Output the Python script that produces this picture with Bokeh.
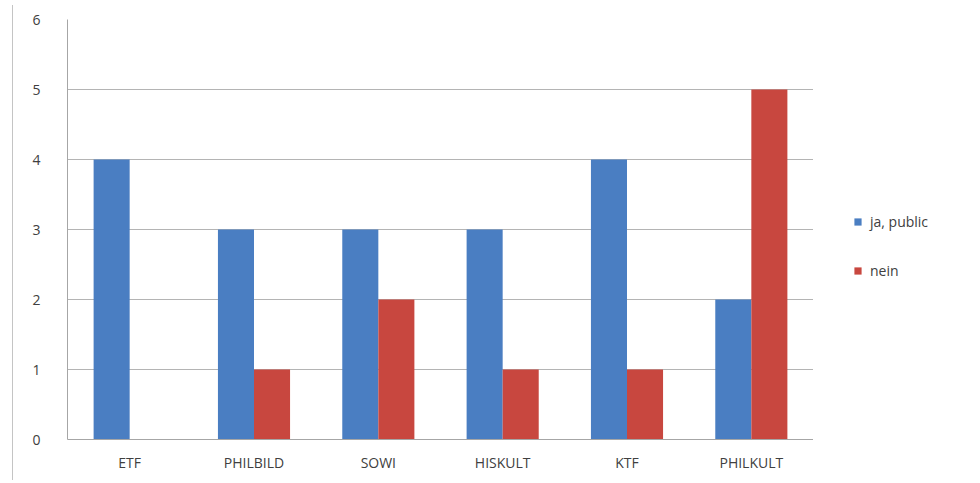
import numpy as np
from bokeh.plotting import figure
from bokeh.models import ColumnDataSource, Legend, LegendItem, FactorRange, Div, Spacer
from bokeh.layouts import row
from bokeh.transform import dodge
from bokeh.embed import file_html
from bokeh.resources import INLINE

categories = ["ETF", "PHILBILD", "SOWI", "HISKULT", "KTF", "PHILKULT"]
ja_public = [4, 3, 3, 3, 4, 2]
nein = [0, 1, 2, 1, 1, 5]
y_ticks = [0, 1, 2, 3, 4, 5, 6]
series_labels = ["ja, public", "nein"]
series_colors = ["#4a7ec2", "#c8473f"]

source = ColumnDataSource(data=dict(cat=categories, ja=ja_public, nein=nein))

FONT = "Open Sans"
TXT = "#404040"
H = 475

p = figure(x_range=FactorRange(*categories, range_padding=0), y_range=(0, 6),
           width=795, height=H, output_backend="svg", toolbar_location=None,
           min_border_left=49, min_border_top=19, min_border_bottom=36, min_border_right=0)
p.outline_line_color = None

r1 = p.vbar(x=dodge("cat", -0.145, range=p.x_range), top="ja", width=0.29, source=source,
            fill_color=series_colors[0], line_color=None)
r2 = p.vbar(x=dodge("cat", 0.145, range=p.x_range), top="nein", width=0.29, source=source,
            fill_color=series_colors[1], line_color=None)

p.yaxis.ticker = y_ticks
p.yaxis.axis_line_color = "#a6a6a6"
p.yaxis.major_tick_line_color = None
p.yaxis.minor_tick_line_color = None
p.yaxis.major_label_standoff = 21
p.yaxis.major_label_text_font = FONT
p.yaxis.major_label_text_font_size = "14px"
p.yaxis.major_label_text_color = TXT

p.xaxis.axis_line_color = "#a6a6a6"
p.xaxis.major_tick_line_color = None
p.xaxis.minor_tick_line_color = None
p.xaxis.major_label_standoff = 7
p.xaxis.major_label_text_font = FONT
p.xaxis.major_label_text_font_size = "14px"
p.xaxis.major_label_text_color = TXT

p.xgrid.grid_line_color = None
p.ygrid.grid_line_color = "#b4b4b4"
p.ygrid.grid_line_width = 1

# legend panel on the right (separate, axis-less figure); proxy renderers hold no visible data
p2 = figure(width=161, height=H, output_backend="svg", toolbar_location=None,
            x_range=(0, 1), y_range=(0, 1),
            min_border_left=0, min_border_right=0, min_border_top=0, min_border_bottom=0)
p2.axis.visible = False
p2.grid.visible = False
p2.outline_line_color = None
proxy = ColumnDataSource(data=dict(x=np.array([np.nan]), top=np.array([np.nan])))
l1 = p2.vbar(x="x", top="top", width=0.1, source=proxy, fill_color=series_colors[0], line_color=None)
l2 = p2.vbar(x="x", top="top", width=0.1, source=proxy, fill_color=series_colors[1], line_color=None)

legend = Legend(items=[LegendItem(label=series_labels[0], renderers=[l1]),
                       LegendItem(label=series_labels[1], renderers=[l2])],
                location=(40, 159))
legend.border_line_color = None
legend.background_fill_alpha = 0
legend.label_text_font = FONT
legend.label_text_font_size = "14px"
legend.label_text_color = TXT
legend.glyph_width = 9
legend.glyph_height = 9
legend.spacing = 30
legend.margin = 0
legend.padding = 0
legend.label_standoff = 8
p2.add_layout(legend, "center")

frame_line = Div(width=1, height=H, styles={"background-color": "#c4c4c4"})
layout = row(Spacer(width=7, height=H), frame_line, p, p2)

open("out.html", "w").write(file_html(layout, INLINE))
